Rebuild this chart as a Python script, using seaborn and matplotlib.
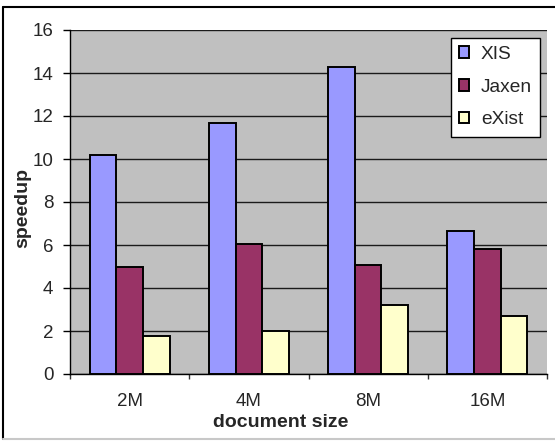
import matplotlib
matplotlib.use("Agg")
import matplotlib.pyplot as plt
from matplotlib.lines import Line2D
import pandas as pd
import seaborn as sns

sizes = ["2M", "4M", "8M", "16M"]
xis = [10.17, 11.68, 14.28, 6.65]
jaxen = [4.98, 6.06, 5.05, 5.81]
exist = [1.76, 2.02, 3.21, 2.70]
series_names = ["XIS", "Jaxen", "eXist"]
colors = ["#9999FF", "#993366", "#FFFFCC"]
yticks = [0, 2, 4, 6, 8, 10, 12, 14, 16]

rows = []
for name, vals in zip(series_names, [xis, jaxen, exist]):
    for s, v in zip(sizes, vals):
        rows.append({"size": s, "series": name, "speedup": v})
df = pd.DataFrame(rows)

sns.set_theme(style="white")
plt.rcParams["font.family"] = ["Liberation Sans", "DejaVu Sans"]

W, H = 555, 441
fig = plt.figure(figsize=(W / 100, H / 100), dpi=100)
ax = fig.add_axes([70 / W, 1 - 374 / H, 477 / W, 344 / H])
ax.set_facecolor("#C0C0C0")

sns.barplot(data=df, x="size", y="speedup", hue="series", order=sizes,
            hue_order=series_names, palette=colors, width=0.67, gap=0,
            edgecolor="black", linewidth=1.4, ax=ax, errorbar=None,
            saturation=1, zorder=3)

ax.set_ylim(0, 16)
ax.set_xlim(-0.5, 3.5)
ax.set_yticks(yticks)
ax.yaxis.grid(True, color="#1a1a1a", linewidth=1.0, zorder=0)
ax.set_axisbelow(True)

for side in ["top", "right"]:
    ax.spines[side].set_visible(False)
for side in ["left", "bottom"]:
    ax.spines[side].set_color("black")
    ax.spines[side].set_linewidth(1.0)

ax.tick_params(axis="y", which="major", direction="out", length=5, width=1,
               color="black", labelsize=13.5, left=True, pad=7)
ax.tick_params(axis="x", which="major", length=0, labelsize=13.5, pad=13.5)
ax.set_xticks([-0.5, 0.5, 1.5, 2.5, 3.5], minor=True)
ax.tick_params(axis="x", which="minor", direction="out", length=3.5, width=1,
               color="#333333", bottom=True)

ax.set_xlabel("document size", fontsize=14, fontweight="bold", labelpad=-1.5)
ax.xaxis.set_label_coords((281 - 70) / 477, -0.115, transform=ax.transAxes)
ax.xaxis.label.set_va("top")
ax.set_ylabel("speedup", fontsize=14, fontweight="bold")
ax.yaxis.set_label_coords(-0.081, (374 - 207.5) / 344, transform=ax.transAxes)

handles, labels = ax.get_legend_handles_labels()
leg = ax.legend(handles, labels, loc="upper right",
                bbox_to_anchor=((540 - 70) / 477, (374 - 38) / 344),
                borderaxespad=0, fontsize=13.8,
                handlelength=0.55, handleheight=0.55, handletextpad=0.6,
                labelspacing=0.82, fancybox=False, framealpha=1,
                edgecolor="black", borderpad=0.42)
leg.get_frame().set_linewidth(1.0)

# outer frame: dark on the left and top, light along the bottom
fig.add_artist(Line2D([3 / W, 3 / W], [1 - 439 / H, 1 - 7 / H],
                      transform=fig.transFigure, color="black", lw=1.5))
fig.add_artist(Line2D([3 / W, 1.0], [1 - 7 / H, 1 - 7 / H],
                      transform=fig.transFigure, color="black", lw=1.5))
fig.add_artist(Line2D([3 / W, 1.0], [1 - 439 / H, 1 - 439 / H],
                      transform=fig.transFigure, color="#c8c8c8", lw=1.5))

fig.savefig("out.png", dpi=100, facecolor="white")
